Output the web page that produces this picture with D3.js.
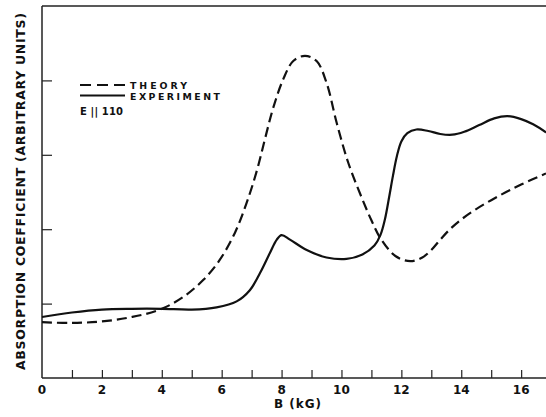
<!DOCTYPE html>
<html>
<head>
<meta charset="utf-8">
<script src="https://cdn.jsdelivr.net/npm/d3@7"></script>
<style>
  html, body { margin: 0; padding: 0; background: #fff; }
  svg { display: block; }
  text { font-family: "DejaVu Sans", sans-serif; font-weight: bold; fill: #111; }
</style>
</head>
<body>
<svg id="chart" width="546" height="417"></svg>
<script>
// ---- data ----
const xTickValues = [1,2,3,4,5,6,7,8,9,10,11,12,13,14,15,16];
const xTickLabels = [0,2,4,6,8,10,12,14,16];
const yTickValues = [1,2,3,4];

const theoryX = [0,1,2,3,3.94,4.72,5.39,5.94,6.44,6.83,7.17,7.45,7.72,8.06,8.39,8.78,9.17,9.5,9.84,10.23,10.7,11.0,11.3,11.8,12.3,12.7,13.0,13.3,13.6,14.0,14.5,15.0,15.5,16.0,16.83];
const theoryY = [0.75,0.74,0.76,0.82,0.92,1.09,1.32,1.59,1.95,2.35,2.78,3.22,3.63,4.02,4.26,4.33,4.26,3.97,3.43,2.89,2.40,2.12,1.88,1.64,1.57,1.62,1.72,1.86,1.99,2.13,2.27,2.39,2.50,2.60,2.75];

const experimentX = [0,1,2,3,4,5,5.83,6.5,6.94,7.28,7.61,7.84,8.0,8.28,8.84,9.5,10.17,10.7,11.1,11.3,11.45,11.6,11.72,11.85,12.0,12.2,12.5,12.9,13.3,13.7,14.1,14.6,15.1,15.55,16.0,16.4,16.83];
const experimentY = [0.82,0.88,0.92,0.93,0.93,0.92,0.95,1.03,1.18,1.41,1.68,1.86,1.92,1.86,1.72,1.62,1.60,1.66,1.78,1.92,2.13,2.45,2.72,2.98,3.18,3.29,3.34,3.32,3.28,3.27,3.31,3.40,3.49,3.52,3.48,3.41,3.30];

const legendLabels = ["THEORY", "EXPERIMENT"];
const legendWidths = [57, 90];
const noteLabel = "E || 110";
const xTitle = "B (kG)";
const yTitle = "ABSORPTION COEFFICIENT (ARBITRARY UNITS)";

// ---- layout ----
const svg = d3.select("#chart");
const mLeft = 42, mRight = 546, mTop = 6, mBottom = 378;
const x = d3.scaleLinear().domain([0, 16.83]).range([mLeft, mRight]);
const y = d3.scaleLinear().domain([0, 5]).range([mBottom, mTop]);
const axisColor = "#222";

// frame: top line
svg.append("line").attr("x1", mLeft).attr("x2", mRight).attr("y1", y(5)).attr("y2", y(5))
  .attr("stroke", axisColor).attr("stroke-width", 1.4);

// x axis (ticks pointing up into the plot)
const xAxis = svg.append("g").attr("transform", `translate(0,${mBottom})`)
  .call(d3.axisTop(x).tickValues(xTickValues).tickSize(8).tickFormat(""));
xAxis.select(".domain").remove();
xAxis.selectAll(".tick line").attr("stroke", axisColor).attr("stroke-width", 1.2);
svg.append("line").attr("x1", mLeft).attr("x2", mRight).attr("y1", mBottom).attr("y2", mBottom)
  .attr("stroke", axisColor).attr("stroke-width", 1.5);

// x tick labels
svg.append("g").selectAll("text").data(xTickLabels).join("text")
  .attr("x", d => x(d)).attr("y", 393.5)
  .attr("text-anchor", "middle").attr("font-size", 12)
  .text(d => d);

// y axis (ticks pointing right into the plot)
const yAxis = svg.append("g").attr("transform", `translate(${mLeft},0)`)
  .call(d3.axisRight(y).tickValues(yTickValues).tickSize(10).tickFormat(""));
yAxis.select(".domain").remove();
yAxis.selectAll(".tick line").attr("stroke", axisColor).attr("stroke-width", 1.2);
svg.append("line").attr("x1", mLeft).attr("x2", mLeft).attr("y1", mTop).attr("y2", mBottom)
  .attr("stroke", axisColor).attr("stroke-width", 1.5);

// axis titles
svg.append("text").attr("x", 298).attr("y", 408).attr("text-anchor", "middle")
  .attr("font-size", 12).attr("letter-spacing", 1).text(xTitle);
svg.append("text")
  .attr("transform", "translate(25,191.5) rotate(-90)")
  .attr("text-anchor", "middle").attr("font-size", 12.5)
  .attr("textLength", 357).attr("lengthAdjust", "spacing")
  .text(yTitle);

// curves
const line = d3.line().x(d => x(d[0])).y(d => y(d[1])).curve(d3.curveCatmullRom.alpha(0.5));
const theory = theoryX.map((v, i) => [v, theoryY[i]]);
const experiment = experimentX.map((v, i) => [v, experimentY[i]]);

svg.append("path").datum(theory).attr("d", line)
  .attr("fill", "none").attr("stroke", "#111").attr("stroke-width", 2.2)
  .attr("stroke-dasharray", "10,5");
svg.append("path").datum(experiment).attr("d", line)
  .attr("fill", "none").attr("stroke", "#111").attr("stroke-width", 2.2);

// legend
const lg = svg.append("g");
lg.append("line").attr("x1", 80).attr("x2", 125).attr("y1", 85).attr("y2", 85)
  .attr("stroke", "#111").attr("stroke-width", 2.2).attr("stroke-dasharray", "11,6");
lg.append("line").attr("x1", 80).attr("x2", 125).attr("y1", 95.5).attr("y2", 95.5)
  .attr("stroke", "#111").attr("stroke-width", 2.2);
lg.selectAll("text.lab").data(legendLabels).join("text").attr("class", "lab")
  .attr("x", 130).attr("y", (d, i) => 88.5 + i * 11)
  .attr("font-size", 9.4)
  .attr("textLength", (d, i) => legendWidths[i]).attr("lengthAdjust", "spacing")
  .text(d => d);
lg.append("text").attr("x", 80).attr("y", 115).attr("font-size", 10)
  .attr("textLength", 43).attr("lengthAdjust", "spacing").text(noteLabel);
</script>
</body>
</html>
